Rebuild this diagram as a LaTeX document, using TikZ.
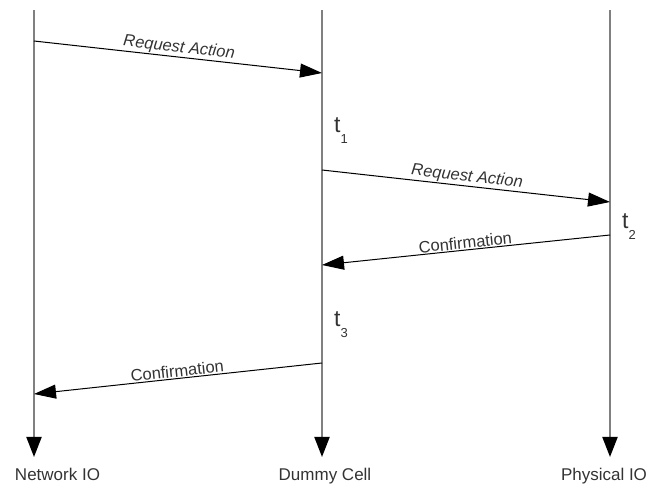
\documentclass[tikz,border=0pt]{standalone}
\usepackage{fontspec}
\setmainfont{Liberation Sans}
\usetikzlibrary{arrows.meta}
\definecolor{lifegray}{HTML}{808080}
\definecolor{txt}{HTML}{333333}
\tikzset{
  lifeline/.style={draw=lifegray, line width=2pt, -{Triangle[length=20pt,width=15pt,color=black]}},
  msg/.style={draw=black, line width=1pt, -{Triangle[length=22pt,width=14pt,color=black]}},
  msglabel/.style={sloped, above=0pt, inner sep=1pt, text=txt, font=\fontsize{16.5}{18}\selectfont},
  reqlabel/.style={msglabel, font=\fontsize{16.5}{18}\selectfont\itshape},
  lifename/.style={text=txt, font=\fontsize{17}{19}\selectfont, inner sep=0pt},
  tlabel/.style={text=txt, font=\fontsize{23}{24}\selectfont, inner sep=0pt}
}
\newcommand{\tsub}[1]{\raisebox{-11pt}{\fontsize{13}{14}\selectfont #1}}
\begin{document}
\begin{tikzpicture}[x=1pt,y=-1pt]
\useasboundingbox (0,0) rectangle (649,489);
% lifelines
\coordinate (nTop) at (34,10);  \coordinate (nBot) at (34,457);
\coordinate (dTop) at (322,10); \coordinate (dBot) at (322,457);
\coordinate (pTop) at (610,10); \coordinate (pBot) at (610,457);
\draw[lifeline] (nTop) -- (nBot);
\draw[lifeline] (dTop) -- (dBot);
\draw[lifeline] (pTop) -- (pBot);
% message points
\coordinate (m1s) at (34,41);   \coordinate (m1e) at (322,73);
\coordinate (m2s) at (322,170); \coordinate (m2e) at (610,202);
\coordinate (m3s) at (610,235); \coordinate (m3e) at (322,265);
\coordinate (m4s) at (322,363); \coordinate (m4e) at (34,394);
\draw[msg] (m1s) -- node[reqlabel] (l1) {Request Action} (m1e);
\draw[msg] (m2s) -- node[reqlabel] (l2) {Request Action} (m2e);
\draw[msg] (m3s) -- node[msglabel] (l3) {Confirmation} (m3e);
\draw[msg] (m4s) -- node[msglabel] (l4) {Confirmation} (m4e);
% time labels
\node[tlabel, anchor=base west] (t1) at (334,133) {t\tsub{1}};
\node[tlabel, anchor=base west] (t2) at (622,229) {t\tsub{2}};
\node[tlabel, anchor=base west] (t3) at (334,327) {t\tsub{3}};
% lifeline names
\node[lifename, anchor=base] (nName) at (57.5,481) {Network IO};
\node[lifename, anchor=base] (dName) at (325,481) {Dummy Cell};
\node[lifename, anchor=base] (pName) at (604,481) {Physical IO};
\end{tikzpicture}
\end{document}
